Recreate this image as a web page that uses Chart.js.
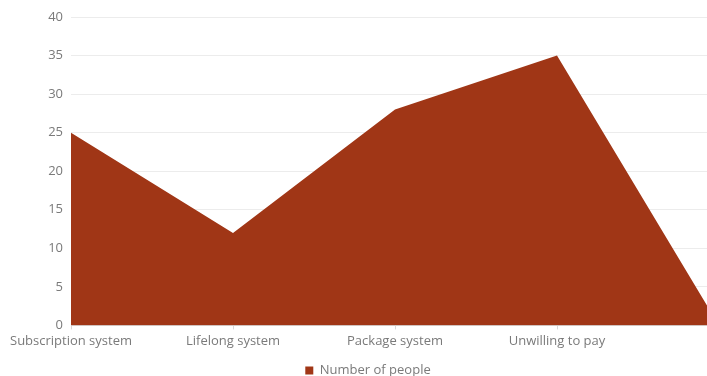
<!DOCTYPE html>
<html>
<head>
<meta charset="utf-8">
<script src="https://cdn.jsdelivr.net/npm/chart.js@4/dist/chart.umd.min.js"></script>
<style>
  html, body { margin: 0; padding: 0; background: #fff; overflow: hidden; }
  #wrap { width: 707px; height: 376px; overflow: hidden; }
</style>
</head>
<body>
<div id="wrap">
  <canvas id="myGraph" width="736" height="387"></canvas>
</div>
<script>
const categories = ['Subscription system', 'Lifelong system', 'Package system', 'Unwilling to pay', ''];
const people = [25, 12, 28, 35, 0];
const yTicks = [0, 5, 10, 15, 20, 25, 30, 35, 40];

const graph = document.getElementById('myGraph');
const textColor = '#7a7a7a';
const fontFamily = '"Open Sans", Lato, sans-serif';

new Chart(graph, {
  type: 'line',
  data: {
    labels: categories,
    datasets: [{
      label: 'Number of people',
      data: people,
      fill: 'origin',
      tension: 0,
      pointRadius: 0,
      borderWidth: 0,
      borderColor: 'rgb(160, 54, 22)',
      backgroundColor: 'rgb(160, 54, 22)'
    }]
  },
  options: {
    responsive: false,
    animation: false,
    layout: { padding: { top: 17, left: 17, right: 17, bottom: 0 } },
    scales: {
      x: {
        offset: false,
        grid: { drawOnChartArea: false, tickLength: 4, color: '#d9d9d9' },
        border: { color: '#d9d9d9' },
        ticks: { color: textColor, font: { family: fontFamily, size: 13 }, maxRotation: 0, autoSkip: false, padding: 4 }
      },
      y: {
        min: 0,
        max: 40,
        afterBuildTicks: axis => { axis.ticks = yTicks.map(v => ({ value: v })); },
        afterFit: axis => { axis.width = 54; },
        grid: { color: '#ececec', drawTicks: false },
        border: { display: false },
        ticks: { color: textColor, font: { family: fontFamily, size: 13 }, padding: 8 }
      }
    },
    plugins: {
      legend: {
        position: 'bottom',
        labels: { color: textColor, font: { family: fontFamily, size: 13 }, boxWidth: 8, boxHeight: 8, padding: 11 }
      },
      tooltip: { enabled: false }
    }
  }
});
</script>
</body>
</html>
